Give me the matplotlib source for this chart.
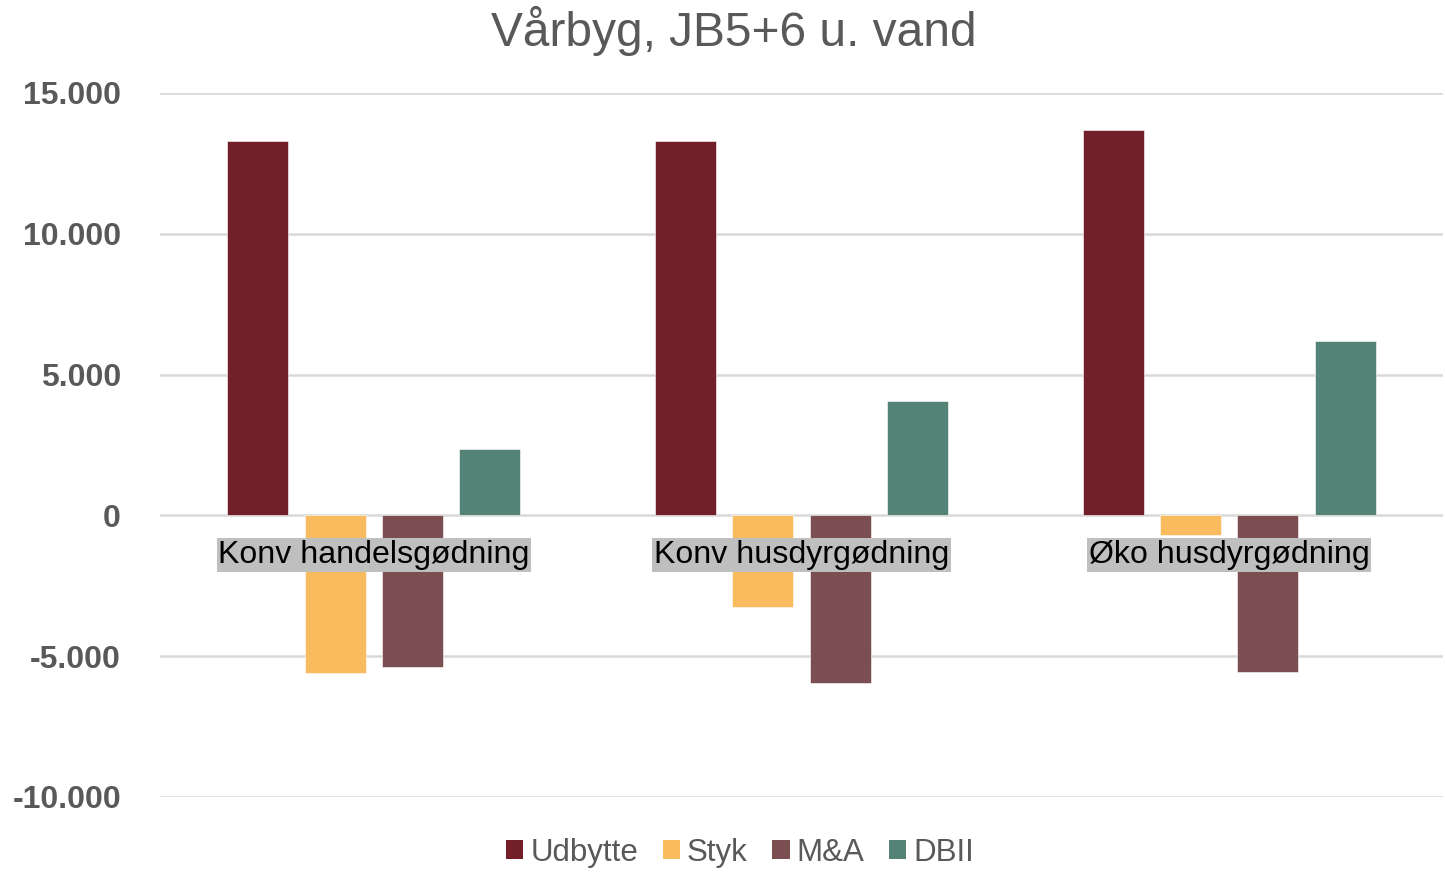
import numpy as np
import matplotlib.pyplot as plt
from matplotlib.patches import Patch

plt.rcParams['font.family'] = ['Liberation Sans', 'DejaVu Sans']

categories = ["Konv handelsgødning", "Konv husdyrgødning", "Øko husdyrgødning"]
series = ["Udbytte", "Styk", "M&A", "DBII"]
udbytte = [13300, 13300, 13690]
styk = [-5600, -3270, -710]
ma = [-5370, -5970, -5580]
dbii = [2350, 4050, 6190]
values = [udbytte, styk, ma, dbii]
colors = ["#721F29", "#F8BB5E", "#7B4F51", "#548276"]

GREY = "#595959"

fig = plt.figure(figsize=(14.45, 8.73), dpi=100)
ax = fig.add_axes([0.1107, 0.0871, 0.888, 0.8064])

x = np.arange(len(categories))
width = 0.1425
step = 0.181
for i, (name, vals) in enumerate(zip(series, values)):
    offset = (i - 1.5) * step
    ax.bar(x + offset, vals, width, color=colors[i], label=name, zorder=3,
           edgecolor="white", linewidth=0.4)

ax.set_xlim(-0.5, len(categories) - 0.5)
ax.set_ylim(-10000, 15000)
ax.set_yticks(np.arange(-10000, 15001, 5000))
ax.set_yticklabels([f"{v:,}".replace(",", ".") for v in range(-10000, 15001, 5000)],
                   fontsize=23, fontweight="bold", color=GREY)
ax.tick_params(axis="y", length=0, pad=28)
ax.set_xticks([])
ax.grid(axis="y", color="#D9D9D9", linewidth=1.8, zorder=0)
for s in ax.spines.values():
    s.set_visible(False)

# category labels sit just under the zero line
for xi, cat in zip(x, categories):
    ax.annotate(cat, (xi, 0), xytext=(0, -28.5), textcoords="offset points",
                ha="center", va="center", fontsize=23.1, color="black", zorder=5,
                bbox=dict(boxstyle="square,pad=0.05", facecolor="#BFBFBF", edgecolor="none"))

fig.text(0.508, 0.965, "Vårbyg, JB5+6 u. vand", ha="center", va="center",
         fontsize=34.5, color=GREY)

handles = [Patch(facecolor=c, label=n) for n, c in zip(series, colors)]
leg = fig.legend(handles=handles, loc="center", bbox_to_anchor=(0.512, 0.023), ncol=4,
                 frameon=False, fontsize=22.5, handlelength=0.56, handleheight=0.56,
                 handletextpad=0.22, columnspacing=0.78)
for t in leg.get_texts():
    t.set_color(GREY)

fig.savefig("out.png", dpi=100)
